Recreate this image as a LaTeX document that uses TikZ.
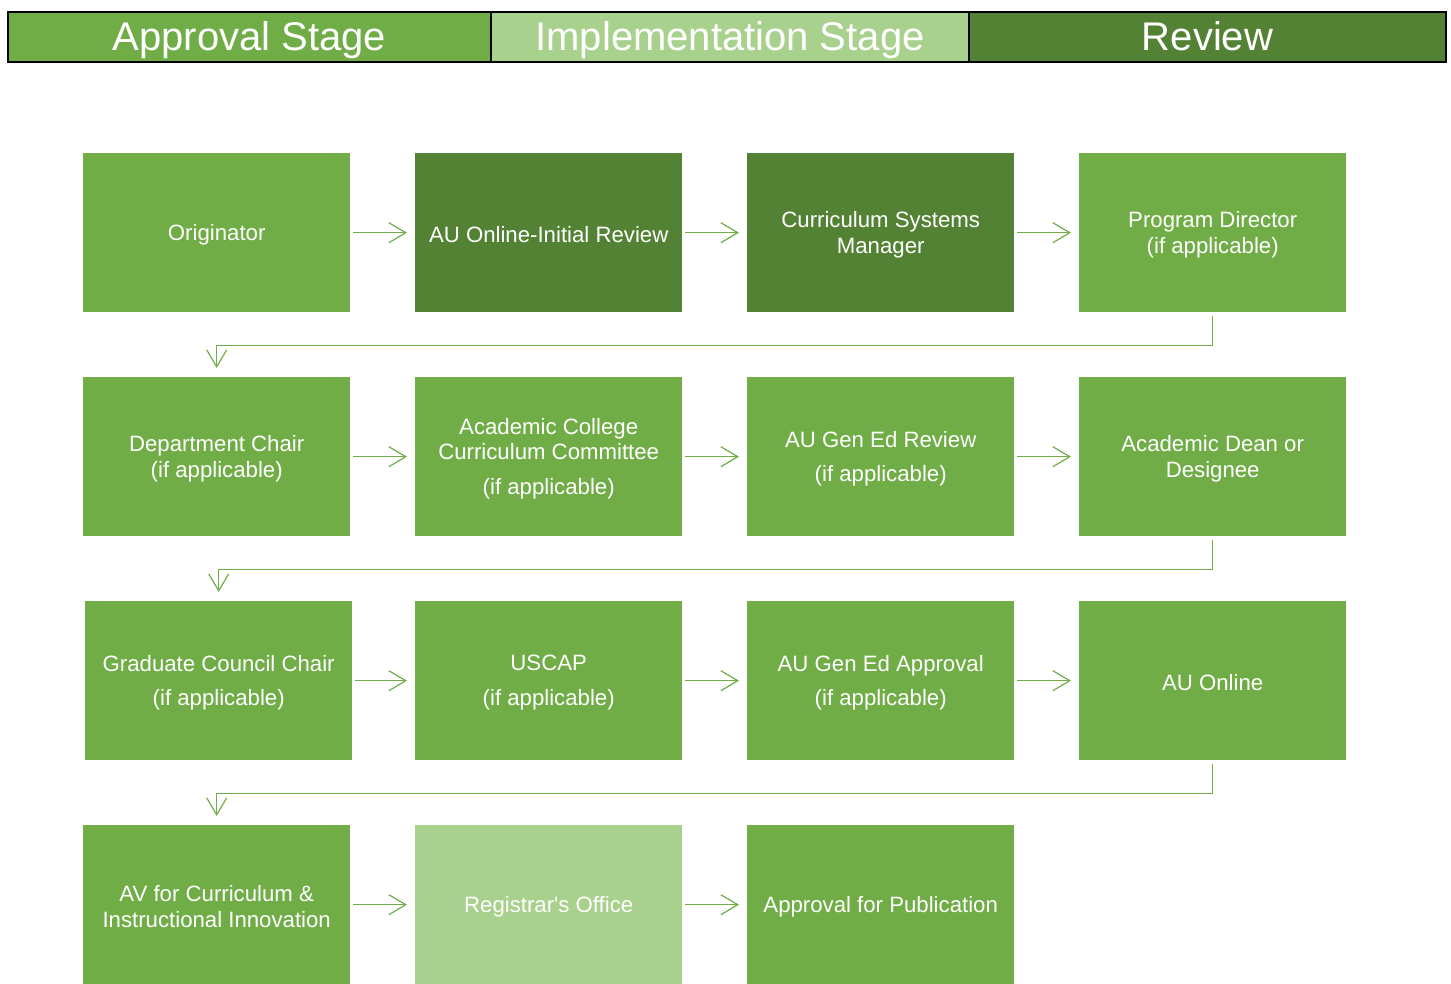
\documentclass[tikz,border=0pt]{standalone}
\usepackage{fontspec}
\setmainfont{Liberation Sans}
\usetikzlibrary{arrows.meta}
\definecolor{leaf}{HTML}{70AD47}
\definecolor{pale}{HTML}{A9D18E}
\definecolor{forest}{HTML}{548235}
\tikzset{
  stage/.style={anchor=north west, minimum height=50pt, inner sep=0pt, draw=black, line width=2pt},
  stagetext/.style={text=white, font=\fontsize{40}{44}\selectfont, inner sep=0pt,
    text height=28pt, text depth=8pt},
  stepbox/.style={anchor=north west, minimum width=267pt, minimum height=159pt, inner sep=0pt,
    fill=leaf},
  darkbox/.style={stepbox, fill=forest},
  lightbox/.style={stepbox, fill=pale},
  label/.style={text=white, align=center, inner sep=0pt, font=\fontsize{22.2}{25.5}\selectfont},
  flow/.style={draw=leaf, line width=1.2pt, -{Straight Barb[length=17pt,width=20pt,line width=1.2pt]}},
  fwd/.style={flow, shorten <=3pt, shorten >=8pt},
  wrap/.style={flow, shorten <=4pt, shorten >=9pt}
}
\newcommand{\boxtext}[2]{\node[label] at ([yshift=-2pt]#1.center) {#2};}
\begin{document}
\begin{tikzpicture}[x=1pt,y=-1pt]
\useasboundingbox (0,0) rectangle (1451,983);
\fill[white] (0,0) rectangle (1451,983);

% stage header bar
\node[stage, fill=leaf, minimum width=483pt] (h1) at (7,11) {};
\node[stage, fill=pale, minimum width=478pt] (h2) at (490,11) {};
\node[stage, fill=forest, minimum width=477pt] (h3) at (968,11) {};
\node[stagetext] at ([yshift=-3pt]h1.center) {Approval Stage};
\node[stagetext] at ([yshift=-3pt]h2.center) {Implementation Stage};
\node[stagetext] at ([yshift=-3pt]h3.center) {Review};

% row 1
\node[stepbox] (orig) at (83,153) {};
\node[darkbox] (auir) at (415,153) {};
\node[darkbox] (csm) at (747,153) {};
\node[stepbox] (pd) at (1079,153) {};

% row 2
\node[stepbox] (dc) at (83,377) {};
\node[stepbox] (accc) at (415,377) {};
\node[stepbox] (ger) at (747,377) {};
\node[stepbox] (dean) at (1079,377) {};

% row 3
\node[stepbox] (gcc) at (85,601) {};
\node[stepbox] (uscap) at (415,601) {};
\node[stepbox] (gea) at (747,601) {};
\node[stepbox] (auo) at (1079,601) {};

% row 4
\node[stepbox] (av) at (83,825) {};
\node[lightbox] (reg) at (415,825) {};
\node[stepbox] (pub) at (747,825) {};

% box captions
\boxtext{orig}{Originator}
\boxtext{auir}{AU Online-Initial Review}
\boxtext{csm}{Curriculum Systems\\Manager}
\boxtext{pd}{Program Director\\(if applicable)}
\boxtext{dc}{Department Chair\\(if applicable)}
\boxtext{accc}{Academic College\\Curriculum Committee\\[9pt](if applicable)}
\boxtext{ger}{AU Gen Ed Review\\[9pt](if applicable)}
\boxtext{dean}{Academic Dean or\\Designee}
\boxtext{gcc}{Graduate Council Chair\\[9pt](if applicable)}
\boxtext{uscap}{USCAP\\[9pt](if applicable)}
\boxtext{gea}{AU Gen Ed Approval\\[9pt](if applicable)}
\boxtext{auo}{AU Online}
\boxtext{av}{AV for Curriculum \&\\Instructional Innovation}
\boxtext{reg}{Registrar\textquotesingle s Office}
\boxtext{pub}{Approval for Publication}

% forward arrows
\draw[fwd] (orig.east) -- (auir.west);
\draw[fwd] (auir.east) -- (csm.west);
\draw[fwd] (csm.east) -- (pd.west);
\draw[fwd] (dc.east) -- (accc.west);
\draw[fwd] (accc.east) -- (ger.west);
\draw[fwd] (ger.east) -- (dean.west);
\draw[fwd] (gcc.east) -- (uscap.west);
\draw[fwd] (uscap.east) -- (gea.west);
\draw[fwd] (gea.east) -- (auo.west);
\draw[fwd] (av.east) -- (reg.west);
\draw[fwd] (reg.east) -- (pub.west);

% wrap-around connectors
\draw[wrap] (pd.south) -- ++(0,33) -| (dc.north);
\draw[wrap] (dean.south) -- ++(0,33) -| (gcc.north);
\draw[wrap] (auo.south) -- ++(0,33) -| (av.north);
\end{tikzpicture}
\end{document}
